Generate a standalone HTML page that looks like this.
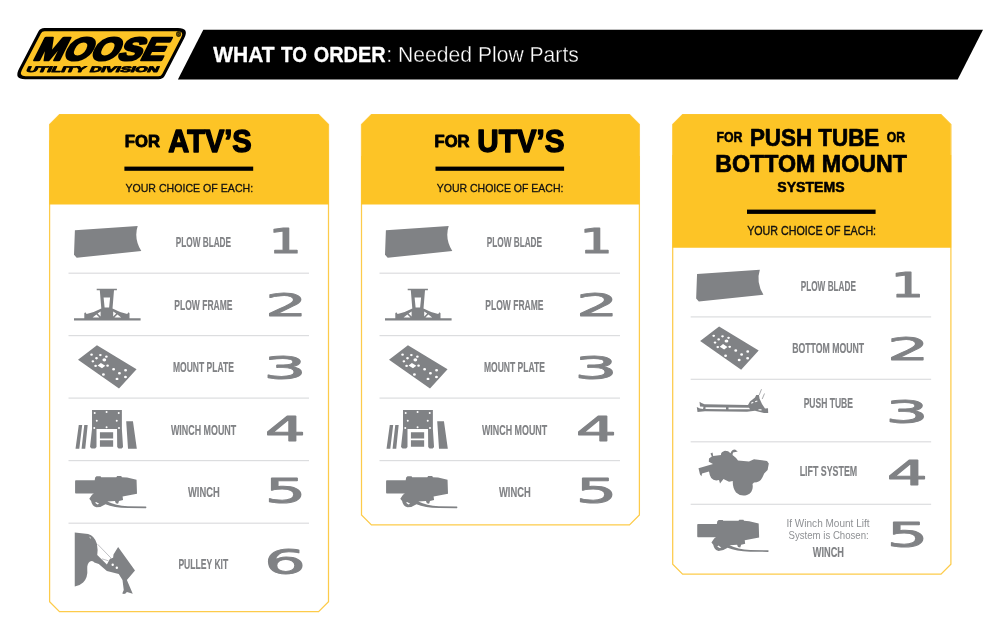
<!DOCTYPE html>
<html lang="en"><head><meta charset="utf-8"><title>What to Order: Needed Plow Parts</title>
<style>html,body{margin:0;padding:0;background:#fff;}body{width:1000px;height:640px;overflow:hidden;}svg{display:block;will-change:transform;}</style>
</head><body>
<svg width="1000" height="640" viewBox="0 0 1000 640" role="img" aria-label="What to order: needed plow parts">
<rect width="1000" height="640" fill="#fff"/>
<path d="M203.3,29.8 H983 L957.7,79.6 H177.9 Z" fill="#000"/>
<g>
<path d="M38.26,31.87 Q40.22,28.10 44.47,28.10 L177.99,28.10 Q189.52,28.10 184.20,38.33 L164.86,75.53 Q162.90,79.30 158.65,79.30 L25.13,79.30 Q13.60,79.30 18.92,69.07 Z" fill="#000"/>
<path d="M40.90,33.46 Q42.08,31.20 44.63,31.20 L177.53,31.20 Q184.45,31.20 181.25,37.34 L162.22,73.94 Q161.05,76.20 158.50,76.20 L25.60,76.20 Q18.68,76.20 21.87,70.06 Z" fill="#fdc426"/>
<g transform="translate(0,61) skewX(-26.6) translate(0,-61)"><text transform="translate(31.64,59.60) scale(1.0944,1)" font-family="'Liberation Sans', sans-serif" font-weight="bold" font-size="32.00" fill="#000" stroke="#000" stroke-width="2.8" stroke-linejoin="round" stroke-miterlimit="1.5" style="vector-effect:non-scaling-stroke">MOOSE</text></g>
<g transform="translate(0,72.6) skewX(-24) translate(0,-72.6)"><text transform="translate(25.31,72.15) scale(1.9273,1)" font-family="'Liberation Sans', sans-serif" font-weight="bold" font-size="8.15" fill="#000" stroke="#000" stroke-width="1.3" stroke-linejoin="round" stroke-miterlimit="1.5" style="vector-effect:non-scaling-stroke">UTILITY DIVISION</text></g>
<text x="178.5" y="36.6" font-family="'Liberation Sans', sans-serif" font-size="6.4" font-weight="bold" text-anchor="middle" fill="#3b2f05" stroke="#3b2f05" stroke-width="0.6">®</text>
</g>
<text transform="translate(213.35,62.05) scale(0.9803,1)" font-family="'Liberation Sans', sans-serif" font-weight="bold" font-size="21.38" fill="#fff" stroke="#fff" stroke-width="0.3" stroke-linejoin="round" stroke-miterlimit="1.5" style="vector-effect:non-scaling-stroke">WHAT </text>
<text transform="translate(280.96,62.05) scale(0.8839,1)" font-family="'Liberation Sans', sans-serif" font-weight="bold" font-size="21.38" fill="#fff" stroke="#fff" stroke-width="0.3" stroke-linejoin="round" stroke-miterlimit="1.5" style="vector-effect:non-scaling-stroke">TO </text>
<text transform="translate(313.75,62.05) scale(0.9301,1)" font-family="'Liberation Sans', sans-serif" font-weight="bold" font-size="21.38" fill="#fff" stroke="#fff" stroke-width="0.3" stroke-linejoin="round" stroke-miterlimit="1.5" style="vector-effect:non-scaling-stroke">ORDER</text>
<text transform="translate(386.30,61.90) scale(0.9682,1)" font-family="'Liberation Sans', sans-serif" font-weight="normal" font-size="21.82" fill="#fff" stroke="#000" stroke-width="0.35">: Needed Plow Parts</text>
<path d="M59.50,114.60 L318.60,114.60 L328.50,124.50 L328.50,601.80 L318.60,611.70 L59.50,611.70 L49.60,601.80 L49.60,124.50Z" fill="#fff" stroke="#fdcb4a" stroke-width="1.25"/>
<path d="M59.80,114.30 L318.30,114.30 L328.20,124.20 L328.20,140.30 L328.80,140.30 L328.80,204.40 L49.30,204.40 L49.30,140.30 L49.90,140.30 L49.90,124.20Z" fill="#fdc426"/>
<text transform="translate(124.83,147.15) scale(0.9610,1)" font-family="'Liberation Sans', sans-serif" font-weight="bold" font-size="17.31" fill="#000" stroke="#000" stroke-width="0.9" stroke-linejoin="round" stroke-miterlimit="1.5" style="vector-effect:non-scaling-stroke">FOR</text>
<text transform="translate(168.37,152.00) scale(0.9237,1)" font-family="'Liberation Sans', sans-serif" font-weight="bold" font-size="31.42" fill="#000" stroke="#000" stroke-width="1.4" stroke-linejoin="round" stroke-miterlimit="1.5" style="vector-effect:non-scaling-stroke">ATV’S</text>
<rect x="124.40" y="166.6" width="128.80" height="4.2" fill="#000"/>
<text transform="translate(125.40,191.56) scale(0.8975,1)" font-family="'Liberation Sans', sans-serif" font-weight="normal" font-size="11.81" fill="#111" stroke="#111" stroke-width="0.28" stroke-linejoin="round" stroke-miterlimit="1.5" style="vector-effect:non-scaling-stroke">YOUR CHOICE OF EACH:</text>
<rect x="68.50" y="272.60" width="240.50" height="1.2" fill="#dcdddf"/>
<rect x="68.50" y="335.00" width="240.50" height="1.2" fill="#dcdddf"/>
<rect x="68.50" y="397.50" width="240.50" height="1.2" fill="#dcdddf"/>
<rect x="68.50" y="460.00" width="240.50" height="1.2" fill="#dcdddf"/>
<rect x="68.50" y="522.60" width="240.50" height="1.2" fill="#dcdddf"/>
<g fill="#808285"><path d="M74.9,230.3 L137.7,226 Q133.6,238.5 141.3,251 L76.7,257.8 L74,254.8 Z"/><path fill-rule="evenodd" d="M74,318.2 H84.3 V313.2 L85.3,312.3 L86.6,314 Q95,312.2 101.3,308.6 L99.8,290.3 H96.7 V288.8 H116.9 V290.3 H114 L112.5,308.6 Q118.8,312.2 127.2,314 L128.5,312.3 L129.5,313.2 V318.2 H140.6 V320.6 H74 Z M103.6,297.5 H110.1 L109.1,307.4 H104.6 Z M92.6,317.6 L96.4,314.4 L99.4,317.6 Z M97.6,313.6 L100.6,311.6 L100.6,316.6 Z M121.2,317.6 L117.4,314.4 L114.4,317.6 Z M116.2,313.6 L113.2,311.6 L113.2,316.6 Z"/><path fill-rule="evenodd" d="M96.95,345.2 L136.55,369.25 L119,388.6 L78,359.8 Z M90.20,354.67 a1.35,1.15 0 1,0 2.7,0 a1.35,1.15 0 1,0 -2.7,0 Z M99.02,355.12 a1.35,1.15 0 1,0 2.7,0 a1.35,1.15 0 1,0 -2.7,0 Z M105.05,356.65 a1.35,1.15 0 1,0 2.7,0 a1.35,1.15 0 1,0 -2.7,0 Z M95.15,358.27 a1.35,1.15 0 1,0 2.7,0 a1.35,1.15 0 1,0 -2.7,0 Z M102.43,359.80 a1.9,1.61 0 1,0 3.8,0 a1.9,1.61 0 1,0 -3.8,0 Z M91.55,361.33 a1.35,1.15 0 1,0 2.7,0 a1.35,1.15 0 1,0 -2.7,0 Z M94.25,365.92 a1.35,1.15 0 1,0 2.7,0 a1.35,1.15 0 1,0 -2.7,0 Z M106.22,365.65 a1.35,1.15 0 1,0 2.7,0 a1.35,1.15 0 1,0 -2.7,0 Z M112.15,369.25 a1.45,1.23 0 1,0 2.9,0 a1.45,1.23 0 1,0 -2.9,0 Z M101.98,374.47 a1.45,1.23 0 1,0 2.9,0 a1.45,1.23 0 1,0 -2.9,0 Z M118.00,373.30 a1.45,1.23 0 1,0 2.9,0 a1.45,1.23 0 1,0 -2.9,0 Z M124.12,370.33 a1.45,1.23 0 1,0 2.9,0 a1.45,1.23 0 1,0 -2.9,0 Z M115.57,378.88 a1.45,1.23 0 1,0 2.9,0 a1.45,1.23 0 1,0 -2.9,0 Z M124.03,377.08 a1.45,1.23 0 1,0 2.9,0 a1.45,1.23 0 1,0 -2.9,0 Z M97.6,365.5 L100.9,362.9 L105.3,365.7 L102.0,368.3 Z"/><path fill-rule="evenodd" d="M92.00,410.10 L121.88,410.10 L121.88,429.00 L123.05,447.00 L121.70,448.62 L118.55,448.62 L117.20,447.00 L117.02,429.00 L96.50,429.00 L96.50,447.00 L95.15,448.62 L91.55,448.62 L90.02,447.00 L92.00,429.00 Z M93.70,412.98 a1.0,1.0 0 1,0 2.0,0 a1.0,1.0 0 1,0 -2.0,0 Z M105.58,411.90 a1.0,1.0 0 1,0 2.0,0 a1.0,1.0 0 1,0 -2.0,0 Z M117.73,412.98 a1.0,1.0 0 1,0 2.0,0 a1.0,1.0 0 1,0 -2.0,0 Z M95.77,420.63 a1.0,1.0 0 1,0 2.0,0 a1.0,1.0 0 1,0 -2.0,0 Z M115.75,420.63 a1.0,1.0 0 1,0 2.0,0 a1.0,1.0 0 1,0 -2.0,0 Z M93.25,427.92 a1.0,1.0 0 1,0 2.0,0 a1.0,1.0 0 1,0 -2.0,0 Z M105.58,427.20 a1.0,1.0 0 1,0 2.0,0 a1.0,1.0 0 1,0 -2.0,0 Z M118.00,427.92 a1.0,1.0 0 1,0 2.0,0 a1.0,1.0 0 1,0 -2.0,0 Z M99.92,432.15 L113.15,432.15 L113.15,438.45 L99.92,438.45 Z M99.92,440.25 L113.15,440.25 L113.15,446.73 L99.92,446.73 Z M78.77,424.95 L82.19,424.95 L79.31,448.80 L75.53,448.80 Z M84.26,424.95 L87.68,424.95 L85.25,448.80 L81.56,448.80 Z M126.20,421.35 L132.95,421.35 L136.82,448.80 L128.00,448.80 Z "/><path fill-rule="evenodd" d="M75.80,480.30 L94.70,480.30 L95.15,477.60 L96.50,476.25 L100.55,476.25 L101.18,477.15 L116.30,477.15 L117.20,475.98 L121.25,475.98 L121.88,477.15 L127.10,477.60 L136.55,479.85 L137.00,493.80 L122.60,496.50 L123.05,500.10 L119.00,501.00 L118.10,503.70 L115.85,503.25 L114.95,501.00 L107.30,501.45 Q115.40,505.50 128.00,506.22 L146.00,506.58 Q146.90,507.30 146.00,508.20 L128.00,508.02 Q113.60,507.75 105.50,504.15 Q101.00,507.30 96.50,507.30 Q92.00,506.40 91.10,501.00 L89.30,498.75 L92.00,494.70 L93.80,493.62 L75.80,493.62 Q75.08,493.35 75.08,492.45 L75.08,481.38 Q75.08,480.48 75.80,480.30 Z M96.05,501.90 L99.20,503.70 L97.40,504.42 L95.15,502.80 Z"/><path fill-rule="evenodd" d="M74.75,532.50 L88.12,534.00 Q94.38,535.62 96.88,543.75 Q98.12,550.00 97.25,555.00 L106.88,564.38 L110.00,558.75 L113.12,557.75 L113.50,554.38 L118.12,547.00 L135.00,570.62 L126.88,580.00 L132.75,593.75 L126.88,591.88 Q125.00,595.00 122.25,593.50 L123.75,590.00 L122.50,580.00 L118.75,574.00 L106.88,571.00 L98.75,564.00 L94.38,562.50 Q92.75,560.00 90.00,561.50 Q86.88,563.75 87.25,568.75 Q88.12,577.50 83.12,582.50 Q80.00,585.62 74.75,586.50 Z M111.50,564.75 a1.2,1.2 0 1,0 2.4,0 a1.2,1.2 0 1,0 -2.4,0 Z M115.62,567.75 a1.2,1.2 0 1,0 2.4,0 a1.2,1.2 0 1,0 -2.4,0 Z"/><path d="M97.56,544.19 L111.34,558.41 M101.94,558.84 L108.50,560.81" fill="none" stroke="#b9babd" stroke-width="0.9"/><path d="M89.47,537.19 L91.00,538.28" fill="none" stroke="#e6e6e8" stroke-width="0.9"/></g>
<text transform="translate(175.77,247.43) scale(0.5364,1)" font-family="'Liberation Sans', sans-serif" font-weight="bold" font-size="15.35" fill="#808285" stroke="#808285" stroke-width="0.15" stroke-linejoin="round" stroke-miterlimit="1.5" style="vector-effect:non-scaling-stroke">PLOW BLADE</text>
<text transform="translate(268.56,253.30) scale(1.5612,1)" font-family="'DejaVu Sans', sans-serif" font-weight="normal" font-size="33.42" fill="#808285" stroke="#808285" stroke-width="1.4" stroke-linejoin="round" stroke-miterlimit="1.5" style="vector-effect:non-scaling-stroke">1</text>
<text transform="translate(174.35,309.93) scale(0.5548,1)" font-family="'Liberation Sans', sans-serif" font-weight="bold" font-size="15.35" fill="#808285" stroke="#808285" stroke-width="0.15" stroke-linejoin="round" stroke-miterlimit="1.5" style="vector-effect:non-scaling-stroke">PLOW FRAME</text>
<text transform="translate(264.97,316.10) scale(2.1064,1)" font-family="'DejaVu Sans', sans-serif" font-weight="normal" font-size="31.65" fill="#808285" stroke="#808285" stroke-width="1.4" stroke-linejoin="round" stroke-miterlimit="1.5" style="vector-effect:non-scaling-stroke">2</text>
<text transform="translate(172.95,372.43) scale(0.5559,1)" font-family="'Liberation Sans', sans-serif" font-weight="bold" font-size="15.35" fill="#808285" stroke="#808285" stroke-width="0.15" stroke-linejoin="round" stroke-miterlimit="1.5" style="vector-effect:non-scaling-stroke">MOUNT PLATE</text>
<text transform="translate(263.19,379.11) scale(2.0827,1)" font-family="'DejaVu Sans', sans-serif" font-weight="normal" font-size="32.74" fill="#808285" stroke="#808285" stroke-width="1.4" stroke-linejoin="round" stroke-miterlimit="1.5" style="vector-effect:non-scaling-stroke">3</text>
<text transform="translate(170.97,434.93) scale(0.5798,1)" font-family="'Liberation Sans', sans-serif" font-weight="bold" font-size="15.35" fill="#808285" stroke="#808285" stroke-width="0.15" stroke-linejoin="round" stroke-miterlimit="1.5" style="vector-effect:non-scaling-stroke">WINCH MOUNT</text>
<text transform="translate(264.63,440.90) scale(1.9170,1)" font-family="'DejaVu Sans', sans-serif" font-weight="normal" font-size="33.70" fill="#808285" stroke="#808285" stroke-width="1.4" stroke-linejoin="round" stroke-miterlimit="1.5" style="vector-effect:non-scaling-stroke">4</text>
<text transform="translate(188.03,497.23) scale(0.6095,1)" font-family="'Liberation Sans', sans-serif" font-weight="bold" font-size="15.35" fill="#808285" stroke="#808285" stroke-width="0.15" stroke-linejoin="round" stroke-miterlimit="1.5" style="vector-effect:non-scaling-stroke">WINCH</text>
<text transform="translate(264.65,503.40) scale(1.9582,1)" font-family="'DejaVu Sans', sans-serif" font-weight="normal" font-size="33.29" fill="#808285" stroke="#808285" stroke-width="1.4" stroke-linejoin="round" stroke-miterlimit="1.5" style="vector-effect:non-scaling-stroke">5</text>
<text transform="translate(178.40,569.02) scale(0.5582,1)" font-family="'Liberation Sans', sans-serif" font-weight="bold" font-size="15.35" fill="#808285" stroke="#808285" stroke-width="0.15" stroke-linejoin="round" stroke-miterlimit="1.5" style="vector-effect:non-scaling-stroke">PULLEY KIT</text>
<text transform="translate(264.23,573.80) scale(1.9390,1)" font-family="'DejaVu Sans', sans-serif" font-weight="normal" font-size="33.66" fill="#808285" stroke="#808285" stroke-width="1.4" stroke-linejoin="round" stroke-miterlimit="1.5" style="vector-effect:non-scaling-stroke">6</text>
<path d="M371.40,114.60 L629.50,114.60 L639.40,124.50 L639.40,515.00 L629.50,524.90 L371.40,524.90 L361.50,515.00 L361.50,124.50Z" fill="#fff" stroke="#fdcb4a" stroke-width="1.25"/>
<path d="M371.80,114.30 L629.10,114.30 L639.00,124.20 L639.00,156.00 L639.70,156.00 L639.70,204.40 L361.20,204.40 L361.20,156.00 L361.90,156.00 L361.90,124.20Z" fill="#fdc426"/>
<text transform="translate(434.53,147.15) scale(0.9581,1)" font-family="'Liberation Sans', sans-serif" font-weight="bold" font-size="17.31" fill="#000" stroke="#000" stroke-width="0.9" stroke-linejoin="round" stroke-miterlimit="1.5" style="vector-effect:non-scaling-stroke">FOR</text>
<text transform="translate(477.32,152.00) scale(0.9420,1)" font-family="'Liberation Sans', sans-serif" font-weight="bold" font-size="31.42" fill="#000" stroke="#000" stroke-width="1.4" stroke-linejoin="round" stroke-miterlimit="1.5" style="vector-effect:non-scaling-stroke">UTV’S</text>
<rect x="435.50" y="166.6" width="128.60" height="4.2" fill="#000"/>
<text transform="translate(436.70,191.56) scale(0.8918,1)" font-family="'Liberation Sans', sans-serif" font-weight="normal" font-size="11.81" fill="#111" stroke="#111" stroke-width="0.28" stroke-linejoin="round" stroke-miterlimit="1.5" style="vector-effect:non-scaling-stroke">YOUR CHOICE OF EACH:</text>
<rect x="379.50" y="272.60" width="240.50" height="1.2" fill="#dcdddf"/>
<rect x="379.50" y="335.00" width="240.50" height="1.2" fill="#dcdddf"/>
<rect x="379.50" y="397.50" width="240.50" height="1.2" fill="#dcdddf"/>
<rect x="379.50" y="460.00" width="240.50" height="1.2" fill="#dcdddf"/>
<g fill="#808285" transform="translate(311.0,0)"><path d="M74.9,230.3 L137.7,226 Q133.6,238.5 141.3,251 L76.7,257.8 L74,254.8 Z"/><path fill-rule="evenodd" d="M74,318.2 H84.3 V313.2 L85.3,312.3 L86.6,314 Q95,312.2 101.3,308.6 L99.8,290.3 H96.7 V288.8 H116.9 V290.3 H114 L112.5,308.6 Q118.8,312.2 127.2,314 L128.5,312.3 L129.5,313.2 V318.2 H140.6 V320.6 H74 Z M103.6,297.5 H110.1 L109.1,307.4 H104.6 Z M92.6,317.6 L96.4,314.4 L99.4,317.6 Z M97.6,313.6 L100.6,311.6 L100.6,316.6 Z M121.2,317.6 L117.4,314.4 L114.4,317.6 Z M116.2,313.6 L113.2,311.6 L113.2,316.6 Z"/><path fill-rule="evenodd" d="M96.95,345.2 L136.55,369.25 L119,388.6 L78,359.8 Z M90.20,354.67 a1.35,1.15 0 1,0 2.7,0 a1.35,1.15 0 1,0 -2.7,0 Z M99.02,355.12 a1.35,1.15 0 1,0 2.7,0 a1.35,1.15 0 1,0 -2.7,0 Z M105.05,356.65 a1.35,1.15 0 1,0 2.7,0 a1.35,1.15 0 1,0 -2.7,0 Z M95.15,358.27 a1.35,1.15 0 1,0 2.7,0 a1.35,1.15 0 1,0 -2.7,0 Z M102.43,359.80 a1.9,1.61 0 1,0 3.8,0 a1.9,1.61 0 1,0 -3.8,0 Z M91.55,361.33 a1.35,1.15 0 1,0 2.7,0 a1.35,1.15 0 1,0 -2.7,0 Z M94.25,365.92 a1.35,1.15 0 1,0 2.7,0 a1.35,1.15 0 1,0 -2.7,0 Z M106.22,365.65 a1.35,1.15 0 1,0 2.7,0 a1.35,1.15 0 1,0 -2.7,0 Z M112.15,369.25 a1.45,1.23 0 1,0 2.9,0 a1.45,1.23 0 1,0 -2.9,0 Z M101.98,374.47 a1.45,1.23 0 1,0 2.9,0 a1.45,1.23 0 1,0 -2.9,0 Z M118.00,373.30 a1.45,1.23 0 1,0 2.9,0 a1.45,1.23 0 1,0 -2.9,0 Z M124.12,370.33 a1.45,1.23 0 1,0 2.9,0 a1.45,1.23 0 1,0 -2.9,0 Z M115.57,378.88 a1.45,1.23 0 1,0 2.9,0 a1.45,1.23 0 1,0 -2.9,0 Z M124.03,377.08 a1.45,1.23 0 1,0 2.9,0 a1.45,1.23 0 1,0 -2.9,0 Z M97.6,365.5 L100.9,362.9 L105.3,365.7 L102.0,368.3 Z"/><path fill-rule="evenodd" d="M92.00,410.10 L121.88,410.10 L121.88,429.00 L123.05,447.00 L121.70,448.62 L118.55,448.62 L117.20,447.00 L117.02,429.00 L96.50,429.00 L96.50,447.00 L95.15,448.62 L91.55,448.62 L90.02,447.00 L92.00,429.00 Z M93.70,412.98 a1.0,1.0 0 1,0 2.0,0 a1.0,1.0 0 1,0 -2.0,0 Z M105.58,411.90 a1.0,1.0 0 1,0 2.0,0 a1.0,1.0 0 1,0 -2.0,0 Z M117.73,412.98 a1.0,1.0 0 1,0 2.0,0 a1.0,1.0 0 1,0 -2.0,0 Z M95.77,420.63 a1.0,1.0 0 1,0 2.0,0 a1.0,1.0 0 1,0 -2.0,0 Z M115.75,420.63 a1.0,1.0 0 1,0 2.0,0 a1.0,1.0 0 1,0 -2.0,0 Z M93.25,427.92 a1.0,1.0 0 1,0 2.0,0 a1.0,1.0 0 1,0 -2.0,0 Z M105.58,427.20 a1.0,1.0 0 1,0 2.0,0 a1.0,1.0 0 1,0 -2.0,0 Z M118.00,427.92 a1.0,1.0 0 1,0 2.0,0 a1.0,1.0 0 1,0 -2.0,0 Z M99.92,432.15 L113.15,432.15 L113.15,438.45 L99.92,438.45 Z M99.92,440.25 L113.15,440.25 L113.15,446.73 L99.92,446.73 Z M78.77,424.95 L82.19,424.95 L79.31,448.80 L75.53,448.80 Z M84.26,424.95 L87.68,424.95 L85.25,448.80 L81.56,448.80 Z M126.20,421.35 L132.95,421.35 L136.82,448.80 L128.00,448.80 Z "/><path fill-rule="evenodd" d="M75.80,480.30 L94.70,480.30 L95.15,477.60 L96.50,476.25 L100.55,476.25 L101.18,477.15 L116.30,477.15 L117.20,475.98 L121.25,475.98 L121.88,477.15 L127.10,477.60 L136.55,479.85 L137.00,493.80 L122.60,496.50 L123.05,500.10 L119.00,501.00 L118.10,503.70 L115.85,503.25 L114.95,501.00 L107.30,501.45 Q115.40,505.50 128.00,506.22 L146.00,506.58 Q146.90,507.30 146.00,508.20 L128.00,508.02 Q113.60,507.75 105.50,504.15 Q101.00,507.30 96.50,507.30 Q92.00,506.40 91.10,501.00 L89.30,498.75 L92.00,494.70 L93.80,493.62 L75.80,493.62 Q75.08,493.35 75.08,492.45 L75.08,481.38 Q75.08,480.48 75.80,480.30 Z M96.05,501.90 L99.20,503.70 L97.40,504.42 L95.15,502.80 Z"/></g>
<text transform="translate(486.77,247.43) scale(0.5364,1)" font-family="'Liberation Sans', sans-serif" font-weight="bold" font-size="15.35" fill="#808285" stroke="#808285" stroke-width="0.15" stroke-linejoin="round" stroke-miterlimit="1.5" style="vector-effect:non-scaling-stroke">PLOW BLADE</text>
<text transform="translate(579.56,253.30) scale(1.5612,1)" font-family="'DejaVu Sans', sans-serif" font-weight="normal" font-size="33.42" fill="#808285" stroke="#808285" stroke-width="1.4" stroke-linejoin="round" stroke-miterlimit="1.5" style="vector-effect:non-scaling-stroke">1</text>
<text transform="translate(485.35,309.93) scale(0.5548,1)" font-family="'Liberation Sans', sans-serif" font-weight="bold" font-size="15.35" fill="#808285" stroke="#808285" stroke-width="0.15" stroke-linejoin="round" stroke-miterlimit="1.5" style="vector-effect:non-scaling-stroke">PLOW FRAME</text>
<text transform="translate(575.97,316.10) scale(2.1064,1)" font-family="'DejaVu Sans', sans-serif" font-weight="normal" font-size="31.65" fill="#808285" stroke="#808285" stroke-width="1.4" stroke-linejoin="round" stroke-miterlimit="1.5" style="vector-effect:non-scaling-stroke">2</text>
<text transform="translate(483.95,372.43) scale(0.5559,1)" font-family="'Liberation Sans', sans-serif" font-weight="bold" font-size="15.35" fill="#808285" stroke="#808285" stroke-width="0.15" stroke-linejoin="round" stroke-miterlimit="1.5" style="vector-effect:non-scaling-stroke">MOUNT PLATE</text>
<text transform="translate(574.19,379.11) scale(2.0827,1)" font-family="'DejaVu Sans', sans-serif" font-weight="normal" font-size="32.74" fill="#808285" stroke="#808285" stroke-width="1.4" stroke-linejoin="round" stroke-miterlimit="1.5" style="vector-effect:non-scaling-stroke">3</text>
<text transform="translate(481.97,434.93) scale(0.5798,1)" font-family="'Liberation Sans', sans-serif" font-weight="bold" font-size="15.35" fill="#808285" stroke="#808285" stroke-width="0.15" stroke-linejoin="round" stroke-miterlimit="1.5" style="vector-effect:non-scaling-stroke">WINCH MOUNT</text>
<text transform="translate(575.63,440.90) scale(1.9170,1)" font-family="'DejaVu Sans', sans-serif" font-weight="normal" font-size="33.70" fill="#808285" stroke="#808285" stroke-width="1.4" stroke-linejoin="round" stroke-miterlimit="1.5" style="vector-effect:non-scaling-stroke">4</text>
<text transform="translate(499.02,497.23) scale(0.6095,1)" font-family="'Liberation Sans', sans-serif" font-weight="bold" font-size="15.35" fill="#808285" stroke="#808285" stroke-width="0.15" stroke-linejoin="round" stroke-miterlimit="1.5" style="vector-effect:non-scaling-stroke">WINCH</text>
<text transform="translate(575.65,503.40) scale(1.9582,1)" font-family="'DejaVu Sans', sans-serif" font-weight="normal" font-size="33.29" fill="#808285" stroke="#808285" stroke-width="1.4" stroke-linejoin="round" stroke-miterlimit="1.5" style="vector-effect:non-scaling-stroke">5</text>
<path d="M682.60,114.60 L941.00,114.60 L950.90,124.50 L950.90,564.20 L941.00,574.10 L682.60,574.10 L672.70,564.20 L672.70,124.50Z" fill="#fff" stroke="#fdcb4a" stroke-width="1.25"/>
<path d="M682.90,114.30 L940.70,114.30 L950.60,124.20 L950.60,155.00 L951.20,155.00 L951.20,247.70 L672.40,247.70 L672.40,155.00 L673.00,155.00 L673.00,124.20Z" fill="#fdc426"/>
<text transform="translate(716.52,142.35) scale(0.8828,1)" font-family="'Liberation Sans', sans-serif" font-weight="bold" font-size="13.96" fill="#000" stroke="#000" stroke-width="0.5" stroke-linejoin="round" stroke-miterlimit="1.5" style="vector-effect:non-scaling-stroke">FOR</text>
<text transform="translate(749.94,145.55) scale(0.9451,1)" font-family="'Liberation Sans', sans-serif" font-weight="bold" font-size="23.71" fill="#000" stroke="#000" stroke-width="0.7" stroke-linejoin="round" stroke-miterlimit="1.5" style="vector-effect:non-scaling-stroke">PUSH TUBE</text>
<text transform="translate(886.76,142.25) scale(0.8370,1)" font-family="'Liberation Sans', sans-serif" font-weight="bold" font-size="14.55" fill="#000" stroke="#000" stroke-width="0.5" stroke-linejoin="round" stroke-miterlimit="1.5" style="vector-effect:non-scaling-stroke">OR</text>
<text transform="translate(715.28,171.75) scale(0.9975,1)" font-family="'Liberation Sans', sans-serif" font-weight="bold" font-size="23.27" fill="#000" stroke="#000" stroke-width="0.7" stroke-linejoin="round" stroke-miterlimit="1.5" style="vector-effect:non-scaling-stroke">BOTTOM MOUNT</text>
<text transform="translate(777.33,192.25) scale(1.0096,1)" font-family="'Liberation Sans', sans-serif" font-weight="bold" font-size="13.96" fill="#000" stroke="#000" stroke-width="0.5" stroke-linejoin="round" stroke-miterlimit="1.5" style="vector-effect:non-scaling-stroke">SYSTEMS</text>
<rect x="747" y="209.6" width="128.6" height="4.3" fill="#000"/>
<text transform="translate(747.13,234.72) scale(0.8813,1)" font-family="'Liberation Sans', sans-serif" font-weight="normal" font-size="12.15" fill="#111" stroke="#111" stroke-width="0.35" stroke-linejoin="round" stroke-miterlimit="1.5" style="vector-effect:non-scaling-stroke">YOUR CHOICE OF EACH:</text>
<rect x="690.65" y="316.30" width="240.50" height="1.2" fill="#dcdddf"/>
<rect x="690.65" y="378.70" width="240.50" height="1.2" fill="#dcdddf"/>
<rect x="690.65" y="441.20" width="240.50" height="1.2" fill="#dcdddf"/>
<rect x="690.65" y="503.70" width="240.50" height="1.2" fill="#dcdddf"/>
<g fill="#808285" transform="translate(622.15,43.7)"><path d="M74.9,230.3 L137.7,226 Q133.6,238.5 141.3,251 L76.7,257.8 L74,254.8 Z"/><path transform="translate(0,-62.5)" fill-rule="evenodd" d="M96.95,345.2 L136.55,369.25 L119,388.6 L78,359.8 Z M90.20,354.67 a1.35,1.15 0 1,0 2.7,0 a1.35,1.15 0 1,0 -2.7,0 Z M99.02,355.12 a1.35,1.15 0 1,0 2.7,0 a1.35,1.15 0 1,0 -2.7,0 Z M105.05,356.65 a1.35,1.15 0 1,0 2.7,0 a1.35,1.15 0 1,0 -2.7,0 Z M95.15,358.27 a1.35,1.15 0 1,0 2.7,0 a1.35,1.15 0 1,0 -2.7,0 Z M102.43,359.80 a1.9,1.61 0 1,0 3.8,0 a1.9,1.61 0 1,0 -3.8,0 Z M91.55,361.33 a1.35,1.15 0 1,0 2.7,0 a1.35,1.15 0 1,0 -2.7,0 Z M94.25,365.92 a1.35,1.15 0 1,0 2.7,0 a1.35,1.15 0 1,0 -2.7,0 Z M106.22,365.65 a1.35,1.15 0 1,0 2.7,0 a1.35,1.15 0 1,0 -2.7,0 Z M112.15,369.25 a1.45,1.23 0 1,0 2.9,0 a1.45,1.23 0 1,0 -2.9,0 Z M101.98,374.47 a1.45,1.23 0 1,0 2.9,0 a1.45,1.23 0 1,0 -2.9,0 Z M118.00,373.30 a1.45,1.23 0 1,0 2.9,0 a1.45,1.23 0 1,0 -2.9,0 Z M124.12,370.33 a1.45,1.23 0 1,0 2.9,0 a1.45,1.23 0 1,0 -2.9,0 Z M115.57,378.88 a1.45,1.23 0 1,0 2.9,0 a1.45,1.23 0 1,0 -2.9,0 Z M124.03,377.08 a1.45,1.23 0 1,0 2.9,0 a1.45,1.23 0 1,0 -2.9,0 Z M97.6,365.5 L100.9,362.9 L105.3,365.7 L102.0,368.3 Z"/></g>
<g fill="#808285"><path fill-rule="evenodd" d="M699.50,401.80 L701.50,403.00 L704.50,404.30 L748.00,405.00 L750.00,401.50 L755.00,397.50 L756.20,395.00 L759.00,395.00 L759.50,398.50 L762.00,404.00 L765.00,408.50 L768.00,408.20 L768.20,413.00 L764.00,413.00 L755.00,410.80 L747.00,411.80 L705.00,411.20 L697.50,412.00 L696.80,407.00 L700.00,408.50 L703.00,409.00 L703.50,406.80 L700.00,406.50 Z M705.50,407.20 L726.00,407.40 L726.00,409.20 L705.50,409.00 Z M728.50,407.40 L749.00,407.70 L750.00,409.30 L728.50,409.20 Z M758.50,409.30 L761.50,409.30 L761.50,410.50 L758.50,410.30 Z M751.00,402.80 L753.00,401.80 L753.50,402.80 L751.50,403.80 Z M755.00,401.20 L757.20,400.50 L757.50,401.50 L755.30,402.20 Z "/><path d="M759.20,395.00 L761.50,389.20 M762.20,399.00 L764.50,393.50" fill="none" stroke="#949699" stroke-width="0.8"/><path d="M698.50,468.20 L713.00,464.00 L708.80,461.80 L709.00,458.50 L711.80,456.50 L710.50,453.50 L712.50,452.50 L713.20,456.00 L721.00,455.00 Q720.50,452.00 725.00,450.80 Q728.50,450.80 730.50,453.20 Q731.50,449.80 735.00,449.50 L737.80,451.50 L733.00,452.50 L732.50,455.00 Q736.00,457.50 738.00,460.50 L749.00,461.50 L754.00,459.30 L767.00,461.00 L768.80,463.50 L767.60,470.00 L764.20,473.50 L762.50,477.20 Q760.00,482.50 754.00,482.50 L752.50,484.00 Q754.00,492.00 747.00,495.00 Q741.00,497.00 736.00,492.50 Q732.50,488.00 732.80,481.00 L729.00,481.80 L723.50,479.00 L720.00,483.50 L719.00,480.00 Q714.00,481.50 711.20,478.00 Q709.50,475.50 709.00,471.50 L702.00,473.50 L701.50,476.20 L700.00,474.50 Z"/></g>
<g fill="#808285" transform="translate(622.15,43.7)"><path fill-rule="evenodd" d="M75.80,480.30 L94.70,480.30 L95.15,477.60 L96.50,476.25 L100.55,476.25 L101.18,477.15 L116.30,477.15 L117.20,475.98 L121.25,475.98 L121.88,477.15 L127.10,477.60 L136.55,479.85 L137.00,493.80 L122.60,496.50 L123.05,500.10 L119.00,501.00 L118.10,503.70 L115.85,503.25 L114.95,501.00 L107.30,501.45 Q115.40,505.50 128.00,506.22 L146.00,506.58 Q146.90,507.30 146.00,508.20 L128.00,508.02 Q113.60,507.75 105.50,504.15 Q101.00,507.30 96.50,507.30 Q92.00,506.40 91.10,501.00 L89.30,498.75 L92.00,494.70 L93.80,493.62 L75.80,493.62 Q75.08,493.35 75.08,492.45 L75.08,481.38 Q75.08,480.48 75.80,480.30 Z M96.05,501.90 L99.20,503.70 L97.40,504.42 L95.15,502.80 Z"/></g>
<text transform="translate(800.77,290.82) scale(0.5344,1)" font-family="'Liberation Sans', sans-serif" font-weight="bold" font-size="15.35" fill="#808285" stroke="#808285" stroke-width="0.15" stroke-linejoin="round" stroke-miterlimit="1.5" style="vector-effect:non-scaling-stroke">PLOW BLADE</text>
<text transform="translate(890.71,297.00) scale(1.5612,1)" font-family="'DejaVu Sans', sans-serif" font-weight="normal" font-size="33.42" fill="#808285" stroke="#808285" stroke-width="1.4" stroke-linejoin="round" stroke-miterlimit="1.5" style="vector-effect:non-scaling-stroke">1</text>
<text transform="translate(792.14,353.32) scale(0.5692,1)" font-family="'Liberation Sans', sans-serif" font-weight="bold" font-size="15.35" fill="#808285" stroke="#808285" stroke-width="0.15" stroke-linejoin="round" stroke-miterlimit="1.5" style="vector-effect:non-scaling-stroke">BOTTOM MOUNT</text>
<text transform="translate(887.12,359.80) scale(2.1064,1)" font-family="'DejaVu Sans', sans-serif" font-weight="normal" font-size="31.65" fill="#808285" stroke="#808285" stroke-width="1.4" stroke-linejoin="round" stroke-miterlimit="1.5" style="vector-effect:non-scaling-stroke">2</text>
<text transform="translate(803.65,408.32) scale(0.5566,1)" font-family="'Liberation Sans', sans-serif" font-weight="bold" font-size="15.35" fill="#808285" stroke="#808285" stroke-width="0.15" stroke-linejoin="round" stroke-miterlimit="1.5" style="vector-effect:non-scaling-stroke">PUSH TUBE</text>
<text transform="translate(885.34,422.81) scale(2.0827,1)" font-family="'DejaVu Sans', sans-serif" font-weight="normal" font-size="32.74" fill="#808285" stroke="#808285" stroke-width="1.4" stroke-linejoin="round" stroke-miterlimit="1.5" style="vector-effect:non-scaling-stroke">3</text>
<text transform="translate(799.63,476.03) scale(0.5777,1)" font-family="'Liberation Sans', sans-serif" font-weight="bold" font-size="15.35" fill="#808285" stroke="#808285" stroke-width="0.15" stroke-linejoin="round" stroke-miterlimit="1.5" style="vector-effect:non-scaling-stroke">LIFT SYSTEM</text>
<text transform="translate(886.78,484.60) scale(1.9170,1)" font-family="'DejaVu Sans', sans-serif" font-weight="normal" font-size="33.70" fill="#808285" stroke="#808285" stroke-width="1.4" stroke-linejoin="round" stroke-miterlimit="1.5" style="vector-effect:non-scaling-stroke">4</text>
<text transform="translate(786.47,527.00) scale(0.9090,1)" font-family="'Liberation Sans', sans-serif" font-weight="normal" font-size="11.05" fill="#8f9194">If Winch Mount Lift</text>
<text transform="translate(788.47,538.70) scale(0.8610,1)" font-family="'Liberation Sans', sans-serif" font-weight="normal" font-size="11.20" fill="#8f9194">System is Chosen:</text>
<text transform="translate(812.73,557.42) scale(0.6016,1)" font-family="'Liberation Sans', sans-serif" font-weight="bold" font-size="15.35" fill="#808285" stroke="#808285" stroke-width="0.15" stroke-linejoin="round" stroke-miterlimit="1.5" style="vector-effect:non-scaling-stroke">WINCH</text>
<text transform="translate(886.80,547.10) scale(1.9582,1)" font-family="'DejaVu Sans', sans-serif" font-weight="normal" font-size="33.29" fill="#808285" stroke="#808285" stroke-width="1.4" stroke-linejoin="round" stroke-miterlimit="1.5" style="vector-effect:non-scaling-stroke">5</text>
</svg>
</body></html>
